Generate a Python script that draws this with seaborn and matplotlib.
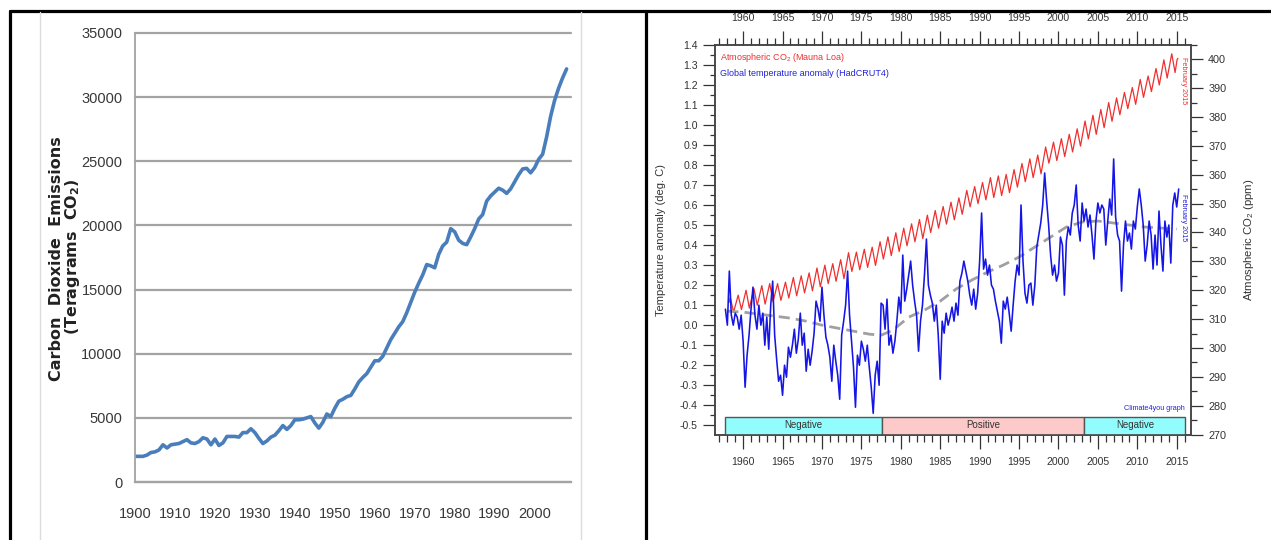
import numpy as np
import pandas as pd
import matplotlib
matplotlib.use("Agg")
import matplotlib.pyplot as plt
import seaborn as sns
from matplotlib.ticker import MultipleLocator, FixedLocator, FormatStrFormatter
from matplotlib.patches import Rectangle
from matplotlib.lines import Line2D

# ---------------- data: left panel (global CO2 emissions) ----------------
emis_years = list(range(1900, 2009))
emis_values = [
    2000, 2000, 2000, 2100, 2300, 2350, 2500, 2900, 2650, 2900,
    2950, 3000, 3150, 3300, 3050, 3000, 3150, 3450, 3350, 2900,
    3350, 2850, 3050, 3550, 3550, 3550, 3500, 3850, 3850, 4150,
    3850, 3400, 3000, 3200, 3500, 3650, 4000, 4400, 4100, 4400,
    4850, 4850, 4900, 5000, 5100, 4600, 4200, 4650, 5300, 5100,
    5750, 6300, 6450, 6650, 6750, 7250, 7800, 8150, 8450, 8950,
    9450, 9450, 9800, 10450, 11100, 11600, 12100, 12500, 13200, 14000,
    14800, 15500, 16150, 16950, 16850, 16700, 17750, 18400, 18700, 19750,
    19500, 18850, 18600, 18500, 19100, 19750, 20500, 20850, 21900, 22300,
    22600, 22900, 22750, 22500, 22850, 23400, 23950, 24400, 24450, 24100,
    24500, 25150, 25550, 26900, 28500, 29750, 30700, 31500, 32200,
]
emis_yticks = [0, 5000, 10000, 15000, 20000, 25000, 30000, 35000]
emis_xticks = list(range(1900, 2001, 10))

# ---------------- data: right panel ----------------
# HadCRUT4 temperature anomaly, quarterly readings from 1957.75
temp_start = 1957.75
temp_step = 0.25
temp_values = [
    0.08,
    0.00, 0.27, 0.05, 0.00,
    0.06, 0.04, -0.02, 0.05,
    -0.08, -0.31, -0.15, -0.05,
    0.08, 0.19, 0.05, -0.02,
    0.10, 0.00, 0.06, -0.10,
    0.04, -0.12, 0.10, 0.22,
    -0.05, -0.17, -0.28, -0.25,
    -0.35, -0.20, -0.26, -0.11,
    -0.16, -0.10, -0.02, -0.14,
    -0.07, 0.06, -0.10, -0.04,
    -0.23, -0.12, -0.20, -0.13,
    -0.04, 0.12, 0.08, 0.02,
    0.19, 0.05, -0.06, -0.10,
    -0.16, -0.28, -0.10, -0.18,
    -0.25, -0.37, -0.05, 0.02,
    0.10, 0.27, 0.05, -0.08,
    -0.21, -0.41, -0.15, -0.20,
    -0.08, -0.12, -0.18, -0.10,
    -0.21, -0.31, -0.44, -0.25,
    -0.18, -0.30, 0.11, 0.10,
    -0.02, 0.13, -0.10, -0.05,
    -0.14, -0.08, 0.02, 0.14,
    0.06, 0.35, 0.12, 0.18,
    0.25, 0.32, 0.20, 0.12,
    0.05, -0.13, 0.02, 0.10,
    0.25, 0.43, 0.20, 0.15,
    0.11, 0.02, 0.10, -0.05,
    -0.27, 0.02, -0.04, 0.06,
    0.00, 0.04, 0.09, 0.02,
    0.11, 0.05, 0.22, 0.26,
    0.32, 0.27, 0.22, 0.15,
    0.10, 0.18, 0.08, 0.16,
    0.32, 0.56, 0.28, 0.33,
    0.25, 0.30, 0.20, 0.18,
    0.12, 0.07, 0.02, -0.09,
    0.12, 0.08, 0.14, 0.06,
    -0.03, 0.10, 0.22, 0.30,
    0.25, 0.60, 0.32, 0.16,
    0.11, 0.20, 0.21, 0.10,
    0.20, 0.39, 0.45, 0.51,
    0.60, 0.76, 0.62, 0.50,
    0.35, 0.25, 0.30, 0.22,
    0.26, 0.44, 0.40, 0.15,
    0.42, 0.49, 0.45, 0.56,
    0.60, 0.70, 0.50, 0.42,
    0.61, 0.52, 0.58, 0.49,
    0.55, 0.45, 0.33, 0.52,
    0.61, 0.56, 0.60, 0.58,
    0.40, 0.52, 0.63, 0.55,
    0.83, 0.54, 0.45, 0.42,
    0.17, 0.40, 0.52, 0.42,
    0.46, 0.38, 0.52, 0.48,
    0.59, 0.68, 0.60, 0.50,
    0.32, 0.40, 0.52, 0.45,
    0.28, 0.45, 0.30, 0.57,
    0.40, 0.27, 0.52, 0.44,
    0.50, 0.31, 0.60, 0.66,
    0.59, 0.68,
]

# Mauna Loa CO2: yearly May peaks and October troughs (ppm)
co2_years = list(range(1958, 2015))
co2_peaks = [
    317.5, 318.3, 320.0, 320.6, 321.6, 322.3, 322.3, 322.8, 324.4, 325.0,
    326.0, 327.7, 328.7, 329.2, 330.6, 333.0, 333.2, 334.2, 334.9, 336.8,
    338.5, 339.9, 341.5, 343.0, 344.5, 346.0, 347.6, 349.0, 350.5, 352.0,
    354.6, 355.9, 357.3, 359.0, 359.6, 360.1, 361.8, 363.9, 365.5, 366.8,
    369.6, 371.3, 372.5, 374.0, 375.9, 378.6, 380.6, 382.6, 385.0, 386.6,
    388.5, 390.2, 393.0, 394.2, 396.8, 399.8, 401.9,
]
co2_troughs = [
    312.4, 313.3, 313.8, 314.8, 315.2, 316.0, 316.5, 317.3, 318.1, 319.1,
    319.8, 321.2, 322.3, 323.1, 324.0, 326.5, 327.1, 327.9, 328.6, 330.8,
    332.0, 333.4, 335.4, 336.8, 337.9, 340.0, 341.5, 342.9, 344.4, 346.3,
    348.9, 350.0, 351.3, 352.1, 352.8, 353.8, 355.7, 357.6, 359.0, 360.3,
    364.0, 364.9, 366.3, 367.9, 369.9, 372.4, 374.0, 376.3, 378.5, 380.8,
    382.9, 384.4, 386.8, 388.8, 391.1, 393.5, 395.4,
]
co2_first = (1958.2, 315.7)
co2_last_years = [2015.05, 2015.15]
co2_last_values = [399.9, 400.3]
peak_month, trough_month = 0.37, 0.79

# smooth (dashed) trend of the temperature
trend_years = [1958, 1960, 1962, 1964, 1966, 1968, 1970, 1972, 1974, 1976,
               1977.5, 1979, 1981, 1983, 1985, 1987, 1989, 1991, 1993, 1995,
               1997, 1999, 2001, 2003, 2005, 2007, 2009, 2011, 2013, 2015]
trend_values = [0.07, 0.065, 0.055, 0.045, 0.035, 0.02, 0.0, -0.015, -0.03, -0.045,
                -0.05, -0.025, 0.04, 0.075, 0.12, 0.18, 0.225, 0.265, 0.30, 0.34,
                0.39, 0.44, 0.49, 0.515, 0.52, 0.51, 0.50, 0.49, 0.485, 0.48]

# PDO phases
phase_labels = ["Negative", "Positive", "Negative"]
phase_starts = [1957.74, 1977.57, 2003.3]
phase_ends = [1977.57, 2003.3, 2016.1]
phase_colors = ["#92fdfd", "#fdc9c9", "#92fdfd"]

# ---------------- build tables ----------------
emis_df = pd.DataFrame({"year": emis_years, "emis": emis_values})
temp_df = pd.DataFrame({
    "year": temp_start + temp_step * np.arange(len(temp_values)),
    "temp": temp_values,
})
cx, cy = [co2_first[0]], [co2_first[1]]
for yr, p, t in zip(co2_years, co2_peaks, co2_troughs):
    cx += [yr + peak_month, yr + trough_month]
    cy += [p, t]
cx += co2_last_years
cy += co2_last_values
co2_df = pd.DataFrame({"year": cx, "co2": cy})
trend_df = pd.DataFrame({"year": trend_years, "trend": trend_values})

# ---------------- figure ----------------
sns.set_theme(style="white")
plt.rcParams["font.family"] = ["Liberation Sans", "DejaVu Sans"]
plt.rcParams["axes.unicode_minus"] = False
plt.rcParams["mathtext.default"] = "regular"

W, H = 1271, 540
fig = plt.figure(figsize=(W / 100, H / 100), dpi=100)
fig.patch.set_facecolor("white")


def fx(px):
    return px / W


def fy(py):
    return 1 - py / H


# frame lines
for (x0, y0, x1, y1, c, lw) in [
    (9.5, 10.5, 1271, 10.5, "black", 2.3),
    (9.5, 10.5, 9.5, 540, "black", 2.3),
    (646, 10.5, 646, 540, "black", 2.3),
    (39.5, 12, 39.5, 540, "#dcdcdc", 1.0),
    (580.5, 12, 580.5, 540, "#dcdcdc", 1.0),
]:
    fig.add_artist(Line2D([fx(x0), fx(x1)], [fy(y0), fy(y1)],
                          transform=fig.transFigure, color=c, lw=lw))

# ---------- left panel ----------
L0, L1, T0, B0 = 135, 570.6, 33, 482
ax1 = fig.add_axes([fx(L0), fy(B0), fx(L1 - L0), (B0 - T0) / H])
ax1.set_facecolor("white")
narrow = ["Liberation Sans Narrow", "Liberation Sans", "DejaVu Sans"]
sns.lineplot(data=emis_df, x="year", y="emis", ax=ax1, color="#4a7ebb",
             lw=2.6, estimator=None, sort=False, legend=False)
ax1.set_xlim(1900, 2009)
ax1.set_ylim(0, 35000)
ax1.yaxis.set_major_locator(FixedLocator(emis_yticks))
ax1.xaxis.set_major_locator(FixedLocator(emis_xticks))
ax1.grid(axis="y", color="#a3a3a3", lw=1.6)
ax1.grid(axis="x", visible=False)
for gl in ax1.get_ygridlines():
    gl.set_clip_on(False)
ax1.set_axisbelow(True)
for s in ["top", "right"]:
    ax1.spines[s].set_visible(False)
ax1.spines["left"].set_color("#a3a3a3")
ax1.spines["left"].set_linewidth(1.3)
ax1.spines["bottom"].set_color("#a3a3a3")
ax1.spines["bottom"].set_linewidth(1.6)
ax1.tick_params(axis="y", length=0, pad=9, labelsize=10.5, labelcolor="#383838")
ax1.tick_params(axis="x", length=6, width=1.2, color="#a3a3a3", direction="out",
                pad=12, labelsize=10.5, labelcolor="#383838")
for lab in ax1.get_xticklabels() + ax1.get_yticklabels():
    lab.set_family(narrow)
ax1.set_xlabel("")
ax1.set_ylabel("")
fig.text(fx(57), fy(259), "Carbon  Dioxide  Emissions", rotation=90,
         ha="center", va="center", fontsize=11.5, fontweight="bold",
         color="#222222", family=["DejaVu Sans"])
fig.text(fx(72.5), fy(257), r"(Teragrams  CO$\mathbf{_2}$)", rotation=90,
         ha="center", va="center", fontsize=11.5, fontweight="bold",
         color="#222222", family=["DejaVu Sans"])

# ---------- right panel ----------
R0, R1, RT, RB = 715.3, 1190.6, 44.8, 434.6
ax2 = fig.add_axes([fx(R0), fy(RB), fx(R1 - R0), (RB - RT) / H])
ax2.set_facecolor("white")
ax3 = ax2.twinx()
ax2.set_zorder(ax3.get_zorder() + 1)
ax2.patch.set_visible(False)

# phase band
band_lo, band_hi = -0.5465, -0.457
for lab, a, b, c in zip(phase_labels, phase_starts, phase_ends, phase_colors):
    ax2.add_patch(Rectangle((a, band_lo), b - a, band_hi - band_lo,
                            facecolor=c, edgecolor="#555555", lw=1.0, zorder=1))
    ax2.text((a + b) / 2, (band_lo + band_hi) / 2 + 0.002, lab, ha="center",
             va="center", fontsize=7, color="#333333", zorder=2)

sns.lineplot(data=trend_df, x="year", y="trend", ax=ax2, color="#a0a0a0",
             lw=2.0, estimator=None, sort=False, legend=False, zorder=2,
             dashes=False)
ax2.get_lines()[-1].set_dashes([4, 2.2])
sns.lineplot(data=temp_df, x="year", y="temp", ax=ax2, color="#1515e6",
             lw=1.15, estimator=None, sort=False, legend=False, zorder=3)

sns.lineplot(data=co2_df, x="year", y="co2", ax=ax3, color="#ee3030",
             lw=0.9, estimator=None, sort=False, legend=False)

ax2.set_xlim(1956.47, 2016.76)
ax2.set_ylim(-0.5465, 1.4)
ax3.set_ylim(270, 405)

ax2.xaxis.set_major_locator(MultipleLocator(5))
ax2.xaxis.set_minor_locator(MultipleLocator(1))
ax2.yaxis.set_major_locator(MultipleLocator(0.1))
ax2.yaxis.set_minor_locator(MultipleLocator(0.05))
ax2.yaxis.set_major_formatter(FormatStrFormatter("%.1f"))
ax3.yaxis.set_major_locator(MultipleLocator(10))
ax3.yaxis.set_minor_locator(MultipleLocator(5))

tc = "#333333"
ax2.tick_params(axis="x", which="both", top=True, bottom=True, labeltop=True,
                labelbottom=True, direction="out", color=tc, width=0.9,
                labelsize=7.6, labelcolor="#333333")
ax2.tick_params(axis="x", which="major", length=10, pad=6)
ax2.tick_params(axis="x", which="minor", length=5)
ax2.tick_params(axis="y", which="both", left=True, right=False, direction="out",
                color=tc, width=0.9, labelsize=7.6, labelcolor="#333333")
ax2.tick_params(axis="y", which="major", length=8.5, pad=4)
ax2.tick_params(axis="y", which="minor", length=3.6)
ax3.tick_params(axis="y", which="both", right=True, left=False, direction="out",
                color=tc, width=0.9, labelsize=7.8, labelcolor="#333333")
ax3.tick_params(axis="y", which="major", length=8.6, pad=4)
ax3.tick_params(axis="y", which="minor", length=4.3)

for ax in (ax2, ax3):
    for s in ax.spines.values():
        s.set_color("#444444")
        s.set_linewidth(1.1)

ax2.set_xlabel("")
ax2.set_ylabel("Temperature anomaly (deg. C)", fontsize=8, color="#333333")
ax2.yaxis.set_label_coords((666 - R0) / (R1 - R0), 0.5)
ax3.set_xlabel("")
ax3.set_ylabel("Atmospheric CO$_2$ (ppm)", fontsize=8.2, color="#333333",
               rotation=90)
ax3.yaxis.set_label_coords((1242 - R0) / (R1 - R0), 0.5)


def axy(py):
    return (RB - py) / (RB - RT)


def axx(px):
    return (px - R0) / (R1 - R0)


ax2.text(axx(720), axy(57.3), "Atmospheric CO$_2$ (Mauna Loa)", transform=ax2.transAxes,
         fontsize=6.5, color="#ee3030", ha="left", va="center")
ax2.text(axx(720), axy(73.5), "Global temperature anomaly (HadCRUT4)",
         transform=ax2.transAxes, fontsize=6.5, color="#2222dd", ha="left",
         va="center")
ax2.text(axx(1184), axy(81), "February 2015", transform=ax2.transAxes,
         rotation=270, fontsize=5.2, color="#ee3030", ha="center", va="center")
ax2.text(axx(1184), axy(218), "February 2015", transform=ax2.transAxes,
         rotation=270, fontsize=5.2, color="#2222dd", ha="center", va="center")
ax2.text(axx(1185), axy(408), "Climate4you graph", transform=ax2.transAxes,
         fontsize=5.2, color="#2222dd", ha="right", va="center")

fig.savefig("out.png", dpi=100, facecolor="white")
